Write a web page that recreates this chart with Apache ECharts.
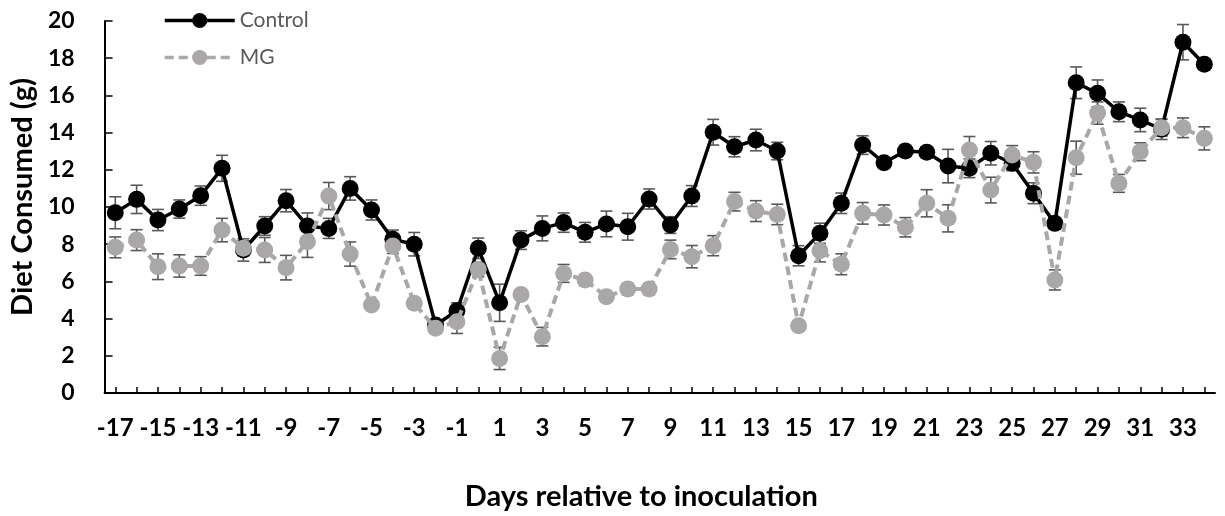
<!DOCTYPE html>
<html>
<head>
<meta charset="utf-8">
<script src="https://cdn.jsdelivr.net/npm/echarts@6/dist/echarts.min.js"></script>
<style>
html,body{margin:0;padding:0;background:#fff;}
#chart{width:1225px;height:516px;}
</style>
</head>
<body>
<div id="chart"></div>
<script>
// Days relative to inoculation
const days = [-17,-16,-15,-14,-13,-12,-11,-10,-9,-8,-7,-6,-5,-4,-3,-2,-1,0,1,2,3,4,5,6,7,8,9,10,11,12,13,14,15,16,17,18,19,20,21,22,23,24,25,26,27,28,29,30,31,32,33,34];
const controlMean = [9.69,10.41,9.30,9.89,10.61,12.08,7.69,8.98,10.34,8.98,
  8.85,11.0,9.84,8.26,8.0,3.66,4.42,7.78,4.85,8.22,
  8.85,9.16,8.64,9.09,8.94,10.43,9.03,10.59,14.02,13.24,
  13.6,13.01,7.38,8.59,10.2,13.33,12.38,13.01,12.94,12.2,
  12.08,12.89,12.35,10.74,9.12,16.68,16.11,15.12,14.68,14.18,
  18.86,17.67];
const controlErr = [0.86,0.76,0.57,0.49,0.52,0.7,0.6,0.5,0.6,0.7,
  0.54,0.63,0.54,0.5,0.63,0.2,0.43,0.55,1.0,0.5,
  0.67,0.52,0.53,0.69,0.72,0.54,0.45,0.56,0.69,0.54,
  0.58,0.47,0.54,0.54,0.55,0.5,0.3,0.3,0.3,0.9,
  0.5,0.63,0.4,0.56,0.3,0.85,0.72,0.53,0.63,0.55,
  0.95,0.2];
const mgMean = [7.83,8.22,6.79,6.83,6.83,8.76,7.78,7.69,6.74,8.13,
  10.59,7.47,4.73,7.9,4.82,3.48,3.83,6.65,1.86,5.3,
  3.03,6.43,6.07,5.18,5.59,5.59,7.72,7.33,7.92,10.29,
  9.78,9.6,3.62,7.65,6.92,9.66,9.57,8.91,10.2,9.39,
  13.06,10.91,12.8,12.4,6.08,12.65,15.05,11.27,12.97,14.26,
  14.26,13.69];
const mgErr = [0.56,0.56,0.69,0.6,0.5,0.63,0.4,0.67,0.66,0.84,
  0.73,0.65,0.2,0.4,0.2,0.2,0.63,0.4,0.6,0.2,
  0.5,0.48,0.3,0.2,0.3,0.3,0.5,0.6,0.54,0.5,
  0.56,0.55,0.2,0.6,0.56,0.58,0.54,0.52,0.73,0.73,
  0.73,0.69,0.5,0.57,0.54,0.89,0.6,0.48,0.48,0.45,
  0.53,0.62];
const yTicks = [0,2,4,6,8,10,12,14,16,18,20];

const FONT = 'Lato';
function errData(mean, err){
  return mean.map((v,i)=>[i, v-err[i], v+err[i]]);
}
function errRender(params, api){
  const i = api.value(0);
  const lo = api.coord([i, api.value(1)]);
  const hi = api.coord([i, api.value(2)]);
  const hw = 6;
  const st = {stroke:'#595959', lineWidth:1.6, fill:null};
  return {type:'group', children:[
    {type:'line', shape:{x1:lo[0],y1:lo[1],x2:hi[0],y2:hi[1]}, style:st},
    {type:'line', shape:{x1:lo[0]-hw,y1:lo[1],x2:lo[0]+hw,y2:lo[1]}, style:st},
    {type:'line', shape:{x1:hi[0]-hw,y1:hi[1],x2:hi[0]+hw,y2:hi[1]}, style:st}
  ]};
}

const chart = echarts.init(document.getElementById('chart'));
chart.setOption({
  animation:false,
  backgroundColor:'#fff',
  textStyle:{fontFamily:FONT},
  grid:{left:102, right:10, top:21, bottom:123},
  legend:{
    data:['Control','MG'], orient:'vertical', left:158, top:5,
    itemWidth:70, itemHeight:19, itemGap:16,
    lineStyle:{width:3.5},
    textStyle:{fontFamily:FONT, fontSize:21, color:'#595959'}
  },
  xAxis:{
    type:'category', data:days.map(String), boundaryGap:true,
    name:'Days relative to inoculation', nameLocation:'middle', nameGap:89,
    nameTextStyle:{fontFamily:FONT, fontWeight:'bold', fontSize:29, color:'#000', padding:[0,37,0,0]},
    axisLine:{lineStyle:{color:'#000', width:2}},
    axisTick:{show:true, inside:true, length:6, alignWithLabel:true, interval:0, lineStyle:{color:'#000', width:1.5}},
    axisLabel:{interval:1, margin:23, fontFamily:FONT, fontWeight:'bold', fontSize:24, color:'#000'},
    splitLine:{show:false}
  },
  yAxis:{
    type:'value', min:yTicks[0], max:yTicks[yTicks.length-1], interval:2,
    name:'Diet Consumed (g)', nameLocation:'middle', nameGap:65, nameRotate:90,
    nameTextStyle:{fontFamily:FONT, fontWeight:'bold', fontSize:29, color:'#000', padding:[0,0,0,20]},
    axisLine:{show:true, lineStyle:{color:'#000', width:2}},
    axisTick:{show:true, inside:true, length:8, lineStyle:{color:'#000', width:1.5}},
    axisLabel:{margin:30, fontFamily:FONT, fontWeight:'bold', fontSize:23, color:'#000'},
    splitLine:{show:false}
  },
  series:[
    {type:'custom', name:'ControlErr', renderItem:errRender, data:errData(controlMean, controlErr), z:1, silent:true,
     encode:{x:0, y:[1,2]}},
    {type:'custom', name:'MGErr', renderItem:errRender, data:errData(mgMean, mgErr), z:1, silent:true,
     encode:{x:0, y:[1,2]}},
    {type:'line', name:'Control', data:controlMean, z:3,
     symbol:'circle', symbolSize:17, showSymbol:true, showAllSymbol:true,
     lineStyle:{color:'#000', width:3.5},
     itemStyle:{color:'#000'}},
    {type:'line', name:'MG', data:mgMean, z:4,
     symbol:'circle', symbolSize:17, showSymbol:true, showAllSymbol:true,
     lineStyle:{color:'#A9A7A7', width:4, type:[9,5]},
     itemStyle:{color:'#A9A7A7'}}
  ]
});
</script>
</body>
</html>
